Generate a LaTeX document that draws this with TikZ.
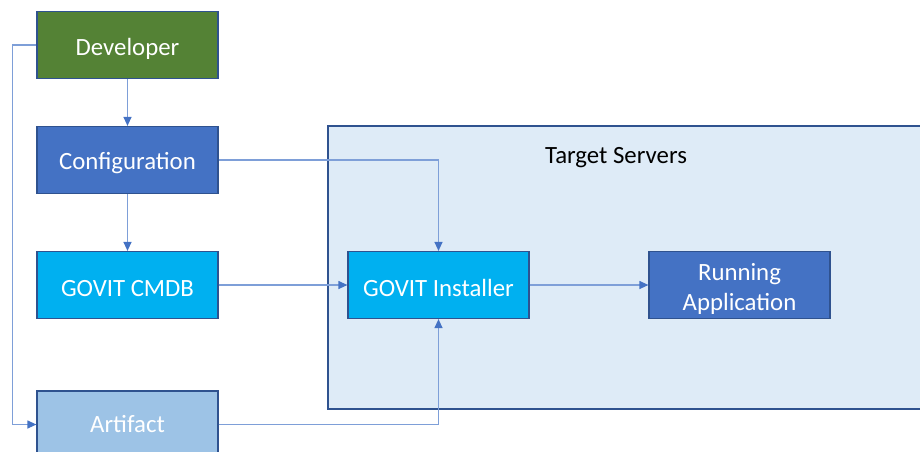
\documentclass[tikz,border=0pt]{standalone}
\usepackage{fontspec}
\setmainfont{Carlito}
\usetikzlibrary{arrows.meta}
\definecolor{devgreen}{HTML}{548235}
\definecolor{confblue}{HTML}{4472C4}
\definecolor{cmdbcyan}{HTML}{00B0F0}
\definecolor{artblue}{HTML}{9DC3E6}
\definecolor{edgeblue}{HTML}{2F528F}
\definecolor{zonefill}{HTML}{DEEBF7}
\definecolor{linkblue}{HTML}{7E9FD8}
\begin{document}
\begin{tikzpicture}[x=1pt, y=-1pt,
    box/.style={draw=edgeblue, line width=1.2pt, minimum width=181pt, minimum height=67pt,
      text=white, align=center, font=\fontsize{24.8}{30}\selectfont},
    link/.style={linkblue, line width=1.2pt, -{Triangle[length=9pt,width=8pt,color=confblue]}}]
  % Page frame
  \useasboundingbox (0,0) rectangle (920,451);
  \clip (0,0) rectangle (920,451);
  % Target zone
  \filldraw[fill=zonefill, draw=edgeblue, line width=1.5pt] (328,126) rectangle (930,409);
  \node[font=\fontsize{24.8}{30}\selectfont] (zone) at (616,158) {Target Servers};
  % Boxes
  \node[box, fill=devgreen] (dev) at (127.5,45) {\rule{0pt}{24pt}Developer};
  \node[box, fill=confblue] (conf) at (127.5,160) {\rule{0pt}{24pt}Configuration};
  \node[box, fill=cmdbcyan] (cmdb) at (127.5,285) {\rule{0pt}{24pt}GOVIT CMDB};
  \node[box, fill=artblue] (art) at (127.5,424.5) {Artifact};
  \node[box, fill=cmdbcyan] (inst) at (438.5,285) {\rule{0pt}{24pt}GOVIT Installer};
  \node[box, fill=confblue] (run) at (739.5,285) {\rule{0pt}{24pt}Running\\Application};
  % Links
  \draw[link] (dev) -- (conf);
  \draw[link] (conf) -- (cmdb);
  \draw[link] (dev.west) -- ++(-24,0) |- (art.west);
  \draw[link] (conf.east) -| (inst.north);
  \draw[link] (cmdb) -- (inst);
  \draw[link] (inst) -- (run);
  \draw[link] (art.east) -| (inst.south);
\end{tikzpicture}
\end{document}
